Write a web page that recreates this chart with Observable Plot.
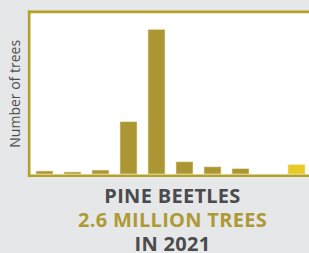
<!DOCTYPE html>
<html>
<head>
<meta charset="utf-8">
<script src="https://cdn.jsdelivr.net/npm/d3@7"></script>
<script src="https://cdn.jsdelivr.net/npm/@observablehq/plot@0.6"></script>
<style>
  html, body { margin: 0; padding: 0; background: #e6e7e8; }
  body { width: 309px; height: 253px; overflow: hidden; }
  #chart svg { display: block; overflow: hidden; }
  .titles {
    margin-top: 5.5px; margin-left: 36px; width: 273px;
    text-align: center; font-family: "Open Sans", sans-serif; font-weight: 700;
    font-size: 20px; line-height: 24px; letter-spacing: 0.3px;
  }
  .dark { color: #4b4b4d; }
  .gold { color: #ae9a35; }
</style>
</head>
<body>
<div id="chart"></div>
<div class="titles">
  <div class="dark">PINE BEETLES</div>
  <div class="gold">2.6 MILLION TREES</div>
  <div class="dark">IN 2021</div>
</div>
<script>
// Data (millions of trees killed; categories are unlabeled periods, last is 2021)
const periods = ["P1", "P2", "P3", "P4", "P5", "P6", "P7", "P8", "P9", "2021"];
const trees = [0.84, 0.56, 1.1, 14.6, 40.4, 3.4, 2.0, 1.5, 0, 2.6];
const highlight = [false, false, false, false, false, false, false, false, false, true];
const yLabel = "Number of trees";

const data = periods.map((p, i) => ({period: p, trees: trees[i], hl: highlight[i]}));

const gold = "#ab9633";
const yellow = "#e9ca24";
const border = "#b3a026";

const side = (anchor) => Plot.frame({anchor, stroke: border, strokeWidth: 2.6, strokeLinecap: "square"});

const chart = Plot.plot({
  width: 309,
  height: 178,
  marginLeft: 28.67,
  marginTop: 11.35,
  marginBottom: 2.75,
  marginRight: 0,
  style: {background: "transparent", fontFamily: "Open Sans, sans-serif", fontSize: "14px", color: "#4d4d4f"},
  x: {type: "band", domain: periods, range: [29.35, 311.65], paddingInner: 0.4, paddingOuter: 0.2, axis: null},
  y: {domain: [0, 45], range: [174, 12.9], axis: null},
  marks: [
    Plot.frame({fill: "white", stroke: null, insetRight: -6}),
    Plot.axisY({ticks: [], tickSize: 0, label: yLabel, labelAnchor: "center", labelArrow: "none", labelOffset: 19, fontSize: 14}),
    Plot.barY(data, {x: "period", y: "trees", fill: d => d.hl ? yellow : gold, stroke: "#efe6bd", strokeWidth: 0.6}),
    side("left"),
    side("top"),
    side("bottom")
  ]
});
document.getElementById("chart").append(chart);
</script>
</body>
</html>
